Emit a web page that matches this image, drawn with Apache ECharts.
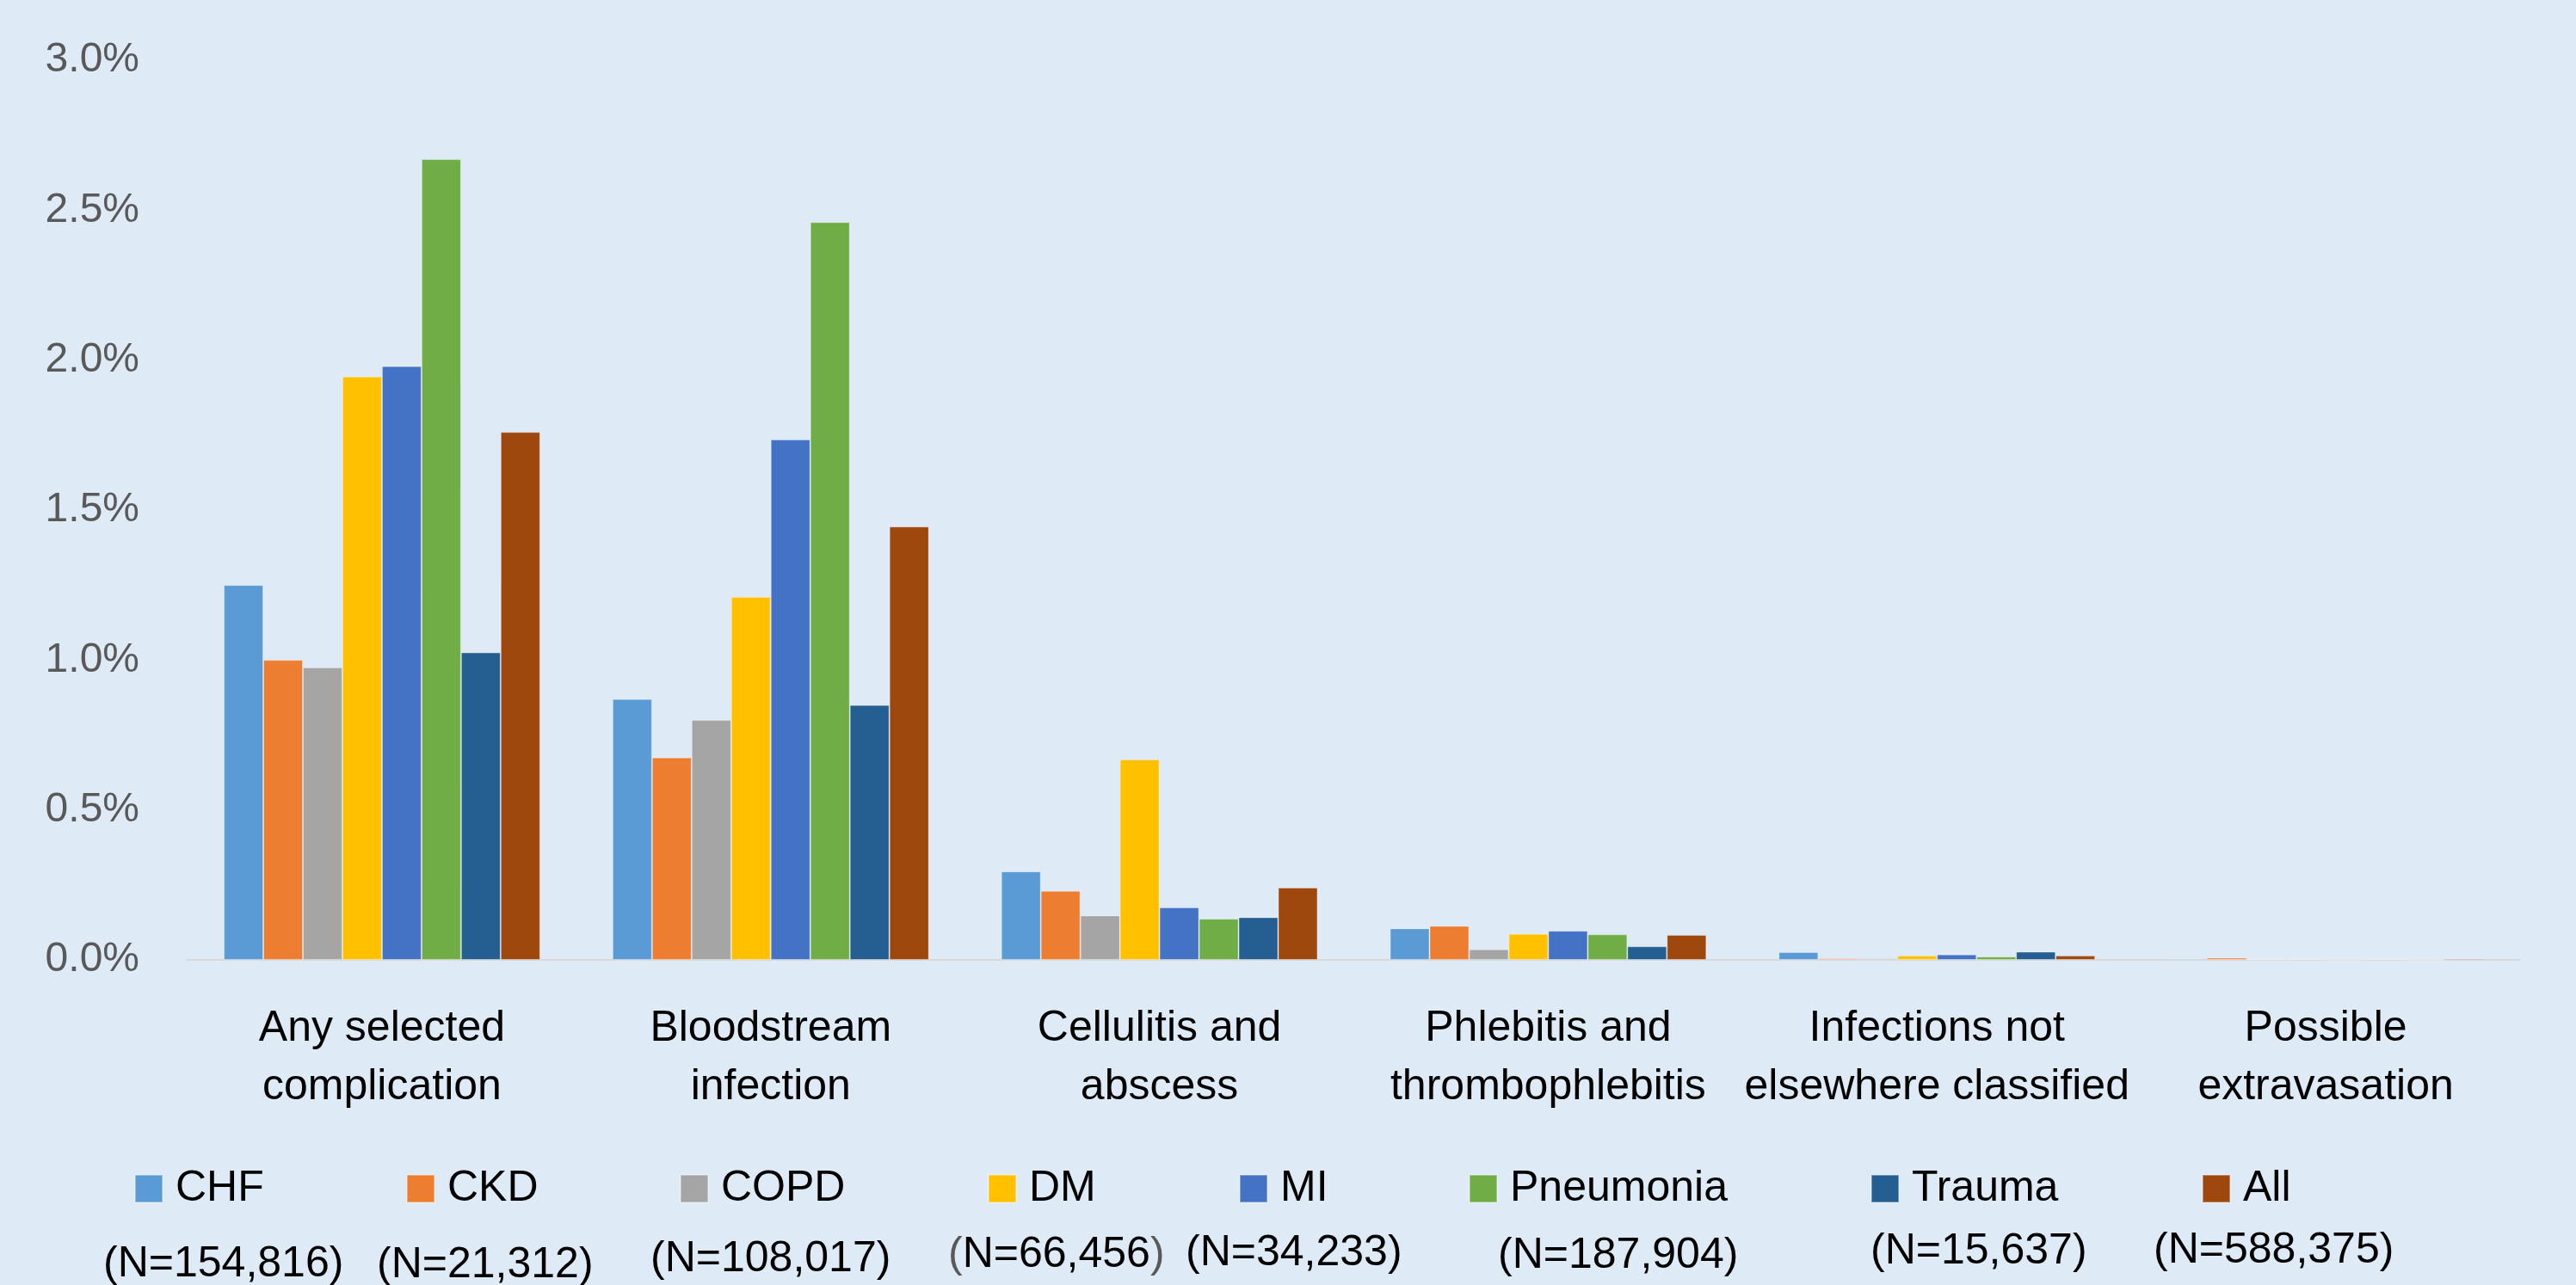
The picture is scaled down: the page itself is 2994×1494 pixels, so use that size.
<!DOCTYPE html>
<html>
<head>
<meta charset="utf-8">
<title>Complication rates by condition</title>
<script src="https://cdn.jsdelivr.net/npm/echarts@6.0.0/dist/echarts.min.js"></script>
<style>
  html, body { margin: 0; padding: 0; background: #DEEBF7; }
  #chart { width: 2994px; height: 1494px; }
</style>
</head>
<body>
<div id="chart"></div>
<script>
// categories on the x axis
const categories = [
  "Any selected\ncomplication",
  "Bloodstream\ninfection",
  "Cellulitis and\nabscess",
  "Phlebitis and\nthrombophlebitis",
  "Infections not\nelsewhere classified",
  "Possible\nextravasation",
];

// series names and sample sizes shown in the legend
const seriesNames = ["CHF", "CKD", "COPD", "DM", "MI", "Pneumonia", "Trauma", "All"];
const sampleSizes = ["N=154,816", "N=21,312", "N=108,017", "N=66,456", "N=34,233", "N=187,904", "N=15,637", "N=588,375"];

// rates in percent, one value per category
const chf = [1.25, 0.87, 0.295, 0.105, 0.026, 0.004];
const ckd = [1.0, 0.675, 0.23, 0.113, 0.005, 0.007];
const copd = [0.975, 0.8, 0.148, 0.035, 0.005, 0.002];
const dm = [1.945, 1.21, 0.668, 0.087, 0.014, 0.003];
const mi = [1.98, 1.735, 0.175, 0.097, 0.018, 0.001];
const pneumonia = [2.67, 2.46, 0.137, 0.085, 0.011, 0.003];
const trauma = [1.025, 0.85, 0.142, 0.045, 0.027, 0.001];
const all = [1.76, 1.445, 0.241, 0.083, 0.014, 0.004];

// y axis ticks
const yMin = 0;
const yMax = 3.0;
const yStep = 0.5;

const seriesValues = [chf, ckd, copd, dm, mi, pneumonia, trauma, all];
const colors = ["#5B9BD5", "#ED7D31", "#A5A5A5", "#FFC000", "#4472C4", "#70AD47", "#255E91", "#9E480E"];

const font = "'Liberation Sans', Arial, sans-serif";
const fontSize = 50;

// legend placement (icon left edge) and the N line below each entry
const legendLeft = [156, 472, 790, 1148, 1440, 1707, 2174, 2559];
const nLabelPos = [
  [120, 1470], [438, 1471], [756, 1464], [1102, 1459],
  [1378, 1457], [1741, 1460], [2174, 1455], [2503, 1454],
];
// the DM entry has grey brackets in the original
const parenColor = ["#000", "#000", "#000", "#595959", "#000", "#000", "#000", "#000"];

const chart = echarts.init(document.getElementById("chart"));

chart.setOption({
  backgroundColor: "#DEEBF7",
  animation: false,
  color: colors,
  grid: {
    left: 218,
    right: 65,
    top: 70,
    bottom: 378,
    containLabel: false,
  },
  legend: seriesNames.map((name, i) => ({
    data: [name],
    left: legendLeft[i],
    top: 1357,
    padding: 0,
    itemWidth: 32,
    itemHeight: 32,
    icon: "rect",
    textStyle: {
      fontFamily: font,
      fontSize: fontSize,
      color: "#000000",
      padding: [0, 0, 0, 10],
    },
  })),
  graphic: sampleSizes.map((n, i) => ({
    type: "text",
    x: nLabelPos[i][0],
    y: nLabelPos[i][1],
    style: {
      text: "{p|(}" + n + "{p|)}",
      fontFamily: font,
      fontSize: fontSize,
      fill: "#000000",
      verticalAlign: "middle",
      align: "left",
      rich: {
        p: { fontFamily: font, fontSize: fontSize, fill: parenColor[i] },
      },
    },
  })),
  xAxis: {
    type: "category",
    data: categories,
    axisLine: { lineStyle: { color: "#D9D9D9", width: 2 } },
    axisTick: { show: false },
    axisLabel: {
      interval: 0,
      margin: 46,
      fontFamily: font,
      fontSize: fontSize,
      lineHeight: 68,
      color: "#000000",
    },
  },
  yAxis: {
    type: "value",
    min: yMin,
    max: yMax,
    interval: yStep,
    axisLine: { show: false },
    axisTick: { show: false },
    splitLine: { show: false },
    axisLabel: {
      margin: 56,
      fontFamily: font,
      fontSize: 48,
      color: "#595959",
      padding: [10, 0, 0, 0],
      formatter: (v) => v.toFixed(1) + "%",
    },
  },
  series: seriesNames.map((name, i) => ({
    name,
    type: "bar",
    data: seriesValues[i],
    barGap: "0%",
    barCategoryGap: "18.6%",
    itemStyle: {
      color: colors[i],
      borderColor: "rgba(255,255,255,0.35)",
      borderWidth: 1,
    },
  })),
});
</script>
</body>
</html>
